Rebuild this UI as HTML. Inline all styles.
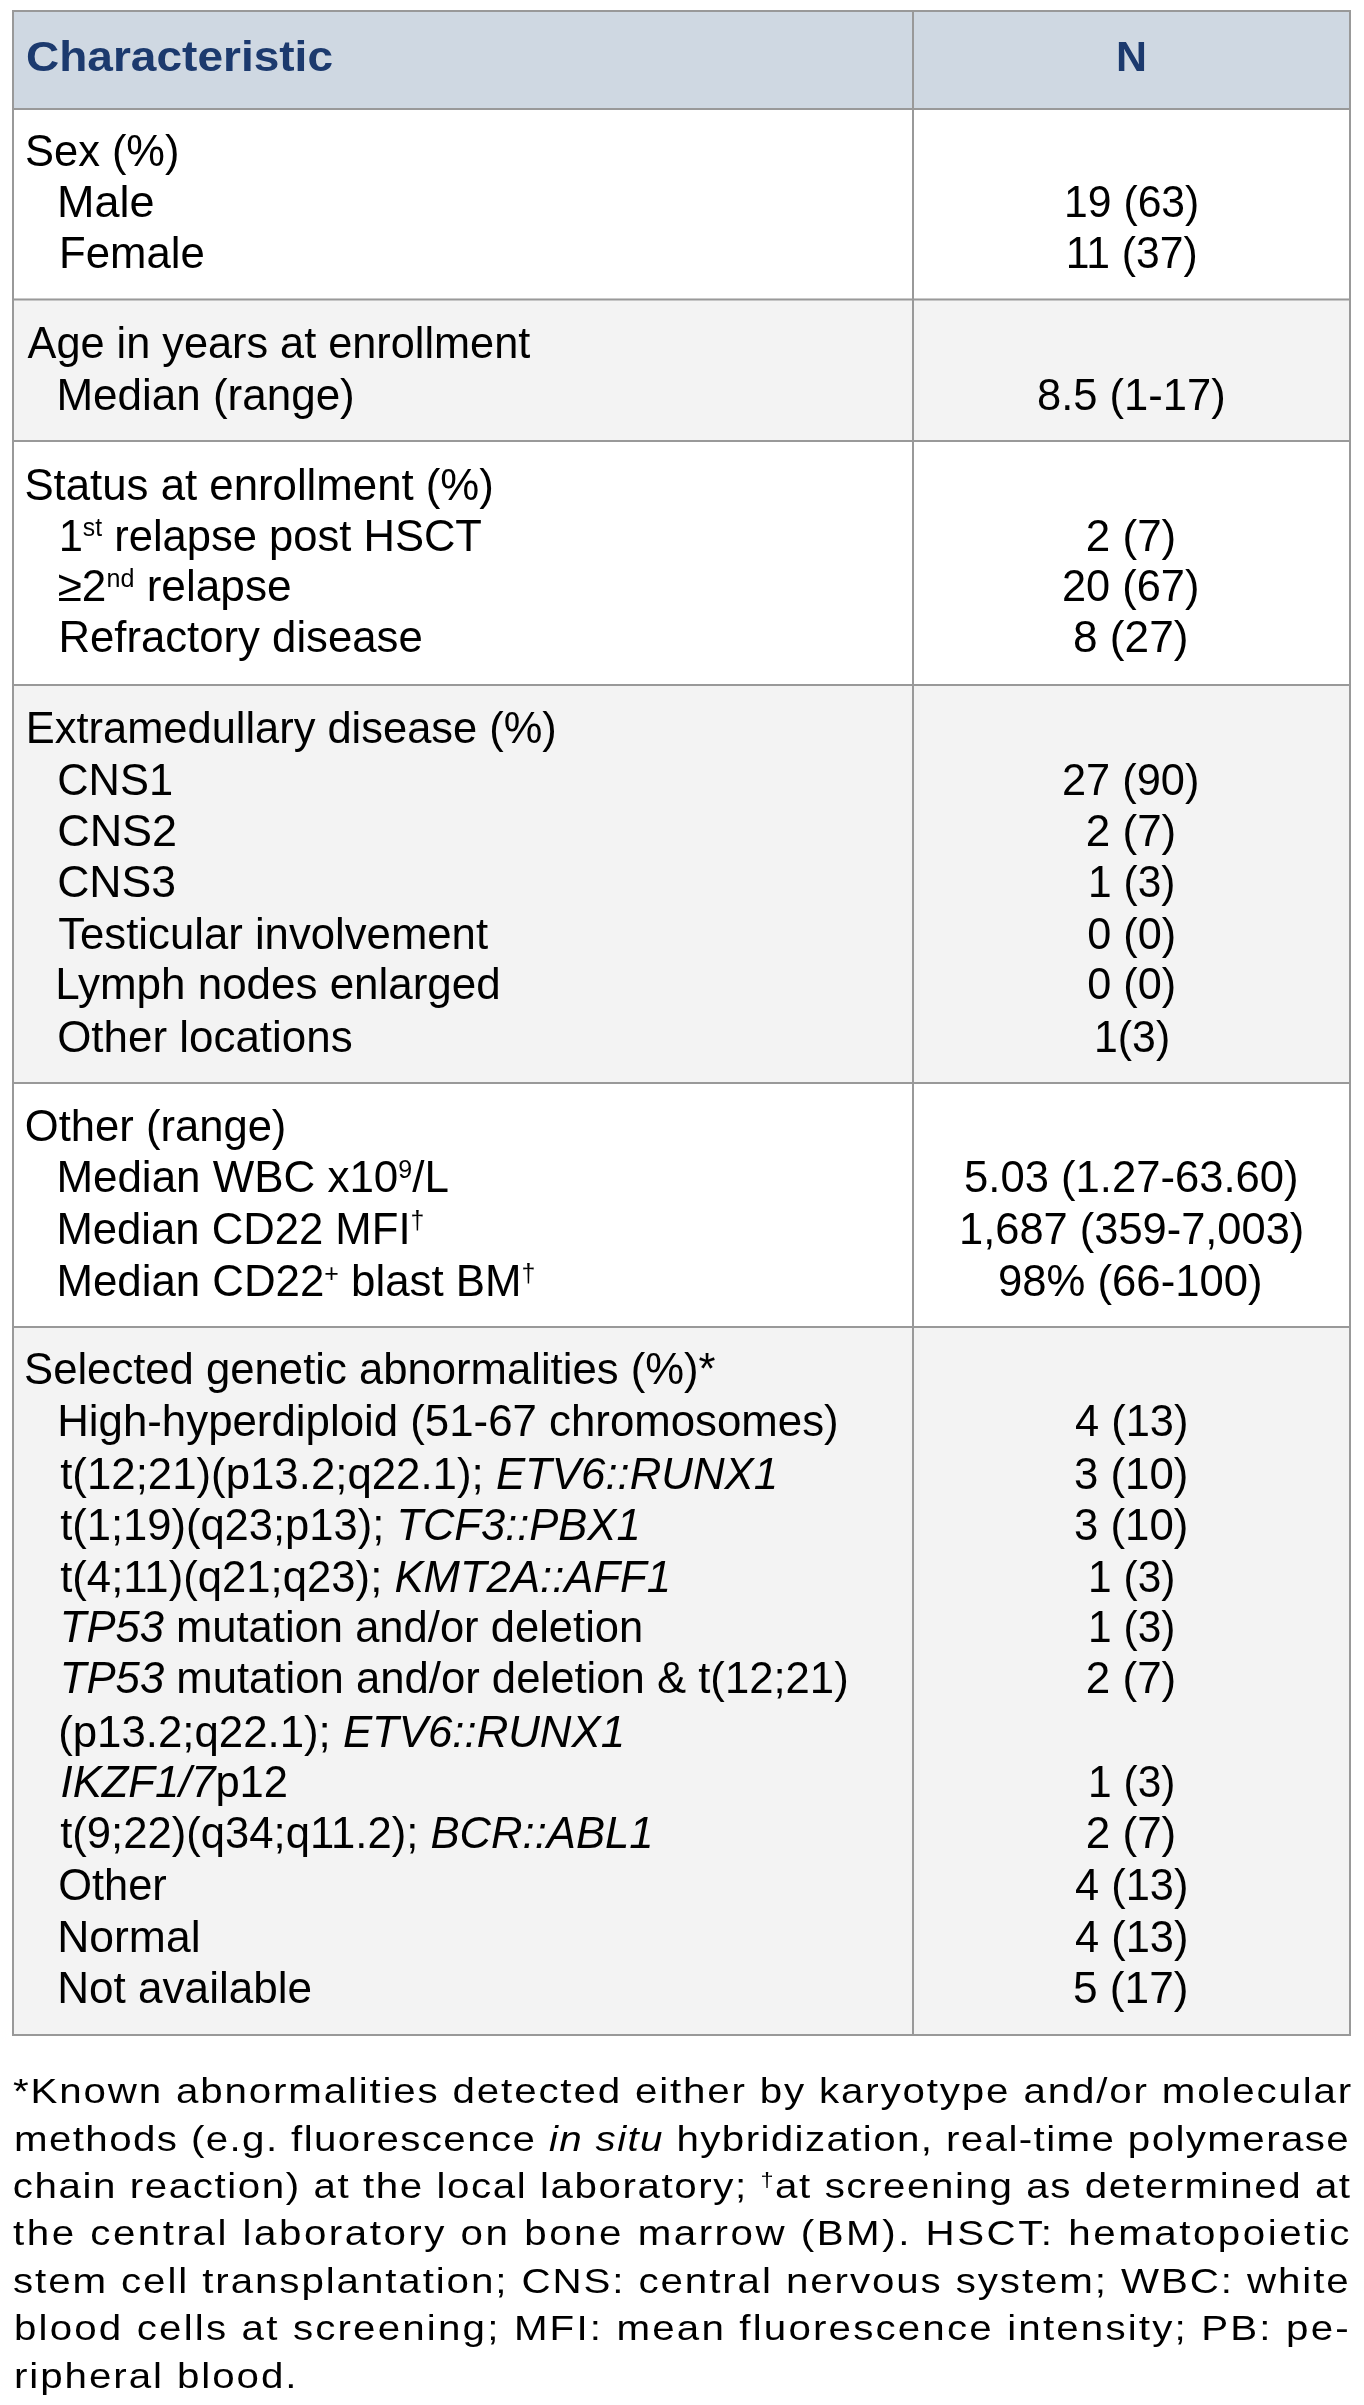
<!DOCTYPE html>
<html><head><meta charset="utf-8"><style>
html,body{margin:0;padding:0;background:#fff;}
body{width:1364px;height:2405px;overflow:hidden;}
svg{display:block;font-family:"Liberation Sans",sans-serif;will-change:transform;}
</style></head><body>
<svg width="1364" height="2405" viewBox="0 0 1364 2405" font-size="44">
<rect x="12" y="10" width="1339" height="100" fill="#cfd8e2"/>
<rect x="12" y="108" width="1339" height="192.5" fill="#ffffff"/>
<rect x="12" y="298.5" width="1339" height="143.5" fill="#f3f3f3"/>
<rect x="12" y="440" width="1339" height="246" fill="#ffffff"/>
<rect x="12" y="684" width="1339" height="400" fill="#f3f3f3"/>
<rect x="12" y="1082" width="1339" height="246" fill="#ffffff"/>
<rect x="12" y="1326" width="1339" height="710" fill="#f3f3f3"/>
<rect x="12" y="10" width="1339" height="2" fill="#999999"/>
<rect x="12" y="108" width="1339" height="2" fill="#999999"/>
<rect x="12" y="298.5" width="1339" height="2" fill="#999999"/>
<rect x="12" y="440" width="1339" height="2" fill="#999999"/>
<rect x="12" y="684" width="1339" height="2" fill="#999999"/>
<rect x="12" y="1082" width="1339" height="2" fill="#999999"/>
<rect x="12" y="1326" width="1339" height="2" fill="#999999"/>
<rect x="12" y="2034" width="1339" height="2" fill="#999999"/>
<rect x="12" y="10" width="2" height="2026" fill="#999999"/>
<rect x="912" y="10" width="2" height="2026" fill="#999999"/>
<rect x="1349" y="10" width="2" height="2026" fill="#999999"/>
<text id="t0" x="25.98" y="71" font-size="42" fill="#1c3a6e" font-weight="bold" textLength="307.04" lengthAdjust="spacingAndGlyphs"><tspan>Characteristic</tspan></text>
<text id="t1" x="1115.93" y="71" font-size="42" fill="#1c3a6e" font-weight="bold" textLength="30.97" lengthAdjust="spacingAndGlyphs"><tspan>N</tspan></text>
<text id="t2" x="25.03" y="165.5" textLength="154.43" lengthAdjust="spacingAndGlyphs"><tspan>Sex (%)</tspan></text>
<text id="t3" x="57.11" y="216.5" textLength="97.53" lengthAdjust="spacingAndGlyphs"><tspan>Male</tspan></text>
<text id="t4" x="59.03" y="267.5" textLength="145.68" lengthAdjust="spacingAndGlyphs"><tspan>Female</tspan></text>
<text id="t5" x="1064.09" y="216.5" textLength="135.26" lengthAdjust="spacingAndGlyphs"><tspan>19 (63)</tspan></text>
<text id="t6" x="1065.69" y="267.5" textLength="131.99" lengthAdjust="spacingAndGlyphs"><tspan>11 (37)</tspan></text>
<text id="t7" x="27.60" y="357.6" textLength="502.65" lengthAdjust="spacingAndGlyphs"><tspan>Age in years at enrollment</tspan></text>
<text id="t8" x="56.40" y="409.5" textLength="298.38" lengthAdjust="spacingAndGlyphs"><tspan>Median (range)</tspan></text>
<text id="t9" x="1037.01" y="409.5" textLength="188.72" lengthAdjust="spacingAndGlyphs"><tspan>8.5 (1-17)</tspan></text>
<text id="t10" x="24.41" y="499.7" textLength="469.44" lengthAdjust="spacingAndGlyphs"><tspan>Status at enrollment (%)</tspan></text>
<text id="t11" x="58.64" y="550.5" textLength="423.32" lengthAdjust="spacingAndGlyphs"><tspan>1</tspan><tspan font-size="25" dy="-14.5">st</tspan><tspan dy="14.5"> relapse post HSCT</tspan></text>
<text id="t12" x="57.59" y="601.2" textLength="234.00" lengthAdjust="spacingAndGlyphs"><tspan>≥2</tspan><tspan font-size="25" dy="-14.5">nd</tspan><tspan dy="14.5"> relapse</tspan></text>
<text id="t13" x="58.42" y="652.4" textLength="364.29" lengthAdjust="spacingAndGlyphs"><tspan>Refractory disease</tspan></text>
<text id="t14" x="1085.79" y="550.5" textLength="90.50" lengthAdjust="spacingAndGlyphs"><tspan>2 (7)</tspan></text>
<text id="t15" x="1062.03" y="601.2" textLength="137.36" lengthAdjust="spacingAndGlyphs"><tspan>20 (67)</tspan></text>
<text id="t16" x="1072.98" y="652.4" textLength="115.49" lengthAdjust="spacingAndGlyphs"><tspan>8 (27)</tspan></text>
<text id="t17" x="25.85" y="742.6" textLength="530.88" lengthAdjust="spacingAndGlyphs"><tspan>Extramedullary disease (%)</tspan></text>
<text id="t18" x="57.22" y="794.7" textLength="115.82" lengthAdjust="spacingAndGlyphs"><tspan>CNS1</tspan></text>
<text id="t19" x="57.16" y="846.0" textLength="119.98" lengthAdjust="spacingAndGlyphs"><tspan>CNS2</tspan></text>
<text id="t20" x="57.18" y="897.2" textLength="118.94" lengthAdjust="spacingAndGlyphs"><tspan>CNS3</tspan></text>
<text id="t21" x="58.21" y="948.5" textLength="429.85" lengthAdjust="spacingAndGlyphs"><tspan>Testicular involvement</tspan></text>
<text id="t22" x="55.20" y="999.1" textLength="445.51" lengthAdjust="spacingAndGlyphs"><tspan>Lymph nodes enlarged</tspan></text>
<text id="t23" x="57.20" y="1051.6" textLength="295.43" lengthAdjust="spacingAndGlyphs"><tspan>Other locations</tspan></text>
<text id="t24" x="1062.03" y="794.7" textLength="137.36" lengthAdjust="spacingAndGlyphs"><tspan>27 (90)</tspan></text>
<text id="t25" x="1085.79" y="846.0" textLength="90.50" lengthAdjust="spacingAndGlyphs"><tspan>2 (7)</tspan></text>
<text id="t26" x="1088.11" y="897.2" textLength="87.29" lengthAdjust="spacingAndGlyphs"><tspan>1 (3)</tspan></text>
<text id="t27" x="1087.22" y="948.5" textLength="88.91" lengthAdjust="spacingAndGlyphs"><tspan>0 (0)</tspan></text>
<text id="t28" x="1087.22" y="999.1" textLength="88.91" lengthAdjust="spacingAndGlyphs"><tspan>0 (0)</tspan></text>
<text id="t29" x="1094.08" y="1051.6" textLength="76.08" lengthAdjust="spacingAndGlyphs"><tspan>1(3)</tspan></text>
<text id="t30" x="24.81" y="1140.5" textLength="261.58" lengthAdjust="spacingAndGlyphs"><tspan>Other (range)</tspan></text>
<text id="t31" x="56.40" y="1192.3" textLength="392.46" lengthAdjust="spacingAndGlyphs"><tspan>Median WBC x10</tspan><tspan font-size="25" dy="-14.5">9</tspan><tspan dy="14.5">/L</tspan></text>
<text id="t32" x="56.43" y="1243.5" textLength="367.88" lengthAdjust="spacingAndGlyphs"><tspan>Median CD22 MFI</tspan><tspan font-size="25" dy="-14.5">†</tspan></text>
<text id="t33" x="56.41" y="1296.2" textLength="478.92" lengthAdjust="spacingAndGlyphs"><tspan>Median CD22</tspan><tspan font-size="25" dy="-14.5">+</tspan><tspan dy="14.5"> blast BM</tspan><tspan font-size="25" dy="-14.5">†</tspan></text>
<text id="t34" x="964.02" y="1192.3" textLength="334.52" lengthAdjust="spacingAndGlyphs"><tspan>5.03 (1.27-63.60)</tspan></text>
<text id="t35" x="959.05" y="1243.5" textLength="345.24" lengthAdjust="spacingAndGlyphs"><tspan>1,687 (359-7,003)</tspan></text>
<text id="t36" x="998.02" y="1296.2" textLength="264.58" lengthAdjust="spacingAndGlyphs"><tspan>98% (66-100)</tspan></text>
<text id="t37" x="24.02" y="1384.3" textLength="691.51" lengthAdjust="spacingAndGlyphs"><tspan>Selected genetic abnormalities (%)*</tspan></text>
<text id="t38" x="57.21" y="1435.9" textLength="781.50" lengthAdjust="spacingAndGlyphs"><tspan>High-hyperdiploid (51-67 chromosomes)</tspan></text>
<text id="t39" x="60.20" y="1489.0" textLength="717.96" lengthAdjust="spacingAndGlyphs"><tspan>t(12;21)(p13.2;q22.1); </tspan><tspan font-style="italic">ETV6::RUNX1</tspan></text>
<text id="t40" x="60.20" y="1540.2" textLength="580.39" lengthAdjust="spacingAndGlyphs"><tspan>t(1;19)(q23;p13); </tspan><tspan font-style="italic">TCF3::PBX1</tspan></text>
<text id="t41" x="60.20" y="1591.5" textLength="610.89" lengthAdjust="spacingAndGlyphs"><tspan>t(4;11)(q21;q23); </tspan><tspan font-style="italic">KMT2A::AFF1</tspan></text>
<text id="t42" x="59.84" y="1642.1" textLength="583.42" lengthAdjust="spacingAndGlyphs"><tspan font-style="italic">TP53</tspan><tspan> mutation and/or deletion</tspan></text>
<text id="t43" x="59.83" y="1693.4" textLength="788.88" lengthAdjust="spacingAndGlyphs"><tspan font-style="italic">TP53</tspan><tspan> mutation and/or deletion &amp; t(12;21)</tspan></text>
<text id="t44" x="58.21" y="1746.8" textLength="566.81" lengthAdjust="spacingAndGlyphs"><tspan>(p13.2;q22.1); </tspan><tspan font-style="italic">ETV6::RUNX1</tspan></text>
<text id="t45" x="60.61" y="1796.6" textLength="227.38" lengthAdjust="spacingAndGlyphs"><tspan font-style="italic">IKZF1/7</tspan><tspan>p12</tspan></text>
<text id="t46" x="60.20" y="1848.4" textLength="593.36" lengthAdjust="spacingAndGlyphs"><tspan>t(9;22)(q34;q11.2); </tspan><tspan font-style="italic">BCR::ABL1</tspan></text>
<text id="t47" x="58.23" y="1900.4" textLength="108.51" lengthAdjust="spacingAndGlyphs"><tspan>Other</tspan></text>
<text id="t48" x="57.16" y="1952.1" textLength="143.37" lengthAdjust="spacingAndGlyphs"><tspan>Normal</tspan></text>
<text id="t49" x="57.19" y="2003.4" textLength="254.89" lengthAdjust="spacingAndGlyphs"><tspan>Not available</tspan></text>
<text id="t50" x="1075.01" y="1435.9" textLength="113.41" lengthAdjust="spacingAndGlyphs"><tspan>4 (13)</tspan></text>
<text id="t51" x="1074.00" y="1489.0" textLength="114.44" lengthAdjust="spacingAndGlyphs"><tspan>3 (10)</tspan></text>
<text id="t52" x="1074.00" y="1540.2" textLength="114.44" lengthAdjust="spacingAndGlyphs"><tspan>3 (10)</tspan></text>
<text id="t53" x="1088.11" y="1591.5" textLength="87.29" lengthAdjust="spacingAndGlyphs"><tspan>1 (3)</tspan></text>
<text id="t54" x="1088.11" y="1642.1" textLength="87.29" lengthAdjust="spacingAndGlyphs"><tspan>1 (3)</tspan></text>
<text id="t55" x="1085.79" y="1693.4" textLength="90.50" lengthAdjust="spacingAndGlyphs"><tspan>2 (7)</tspan></text>
<text id="t56" x="1088.11" y="1796.6" textLength="87.29" lengthAdjust="spacingAndGlyphs"><tspan>1 (3)</tspan></text>
<text id="t57" x="1085.79" y="1848.4" textLength="90.50" lengthAdjust="spacingAndGlyphs"><tspan>2 (7)</tspan></text>
<text id="t58" x="1075.01" y="1900.4" textLength="113.41" lengthAdjust="spacingAndGlyphs"><tspan>4 (13)</tspan></text>
<text id="t59" x="1075.01" y="1952.1" textLength="113.41" lengthAdjust="spacingAndGlyphs"><tspan>4 (13)</tspan></text>
<text id="t60" x="1072.98" y="2003.4" textLength="115.49" lengthAdjust="spacingAndGlyphs"><tspan>5 (17)</tspan></text>
<text id="t61" x="11.61" y="2102.6" transform="scale(1.12 1)" font-size="36" textLength="1194.79" lengthAdjust="spacing"><tspan>*Known abnormalities detected either by karyotype and/or molecular</tspan></text>
<text id="t62" x="12.50" y="2151.0" transform="scale(1.12 1)" font-size="36" textLength="1191.74" lengthAdjust="spacing"><tspan>methods (e.g. fluorescence </tspan><tspan font-style="italic">in situ</tspan><tspan> hybridization, real-time polymerase</tspan></text>
<text id="t63" x="11.43" y="2198.2" transform="scale(1.12 1)" font-size="36" textLength="1194.01" lengthAdjust="spacing"><tspan>chain reaction) at the local laboratory; </tspan><tspan font-size="21" dy="-11">†</tspan><tspan dy="11">at screening as determined at</tspan></text>
<text id="t64" x="11.61" y="2245.0" transform="scale(1.12 1)" font-size="36" textLength="1193.24" lengthAdjust="spacing"><tspan>the central laboratory on bone marrow (BM). HSCT: hematopoietic</tspan></text>
<text id="t65" x="11.61" y="2293.3" transform="scale(1.12 1)" font-size="36" textLength="1192.60" lengthAdjust="spacing"><tspan>stem cell transplantation; CNS: central nervous system; WBC: white</tspan></text>
<text id="t66" x="12.50" y="2340.3" transform="scale(1.12 1)" font-size="36" textLength="1191.68" lengthAdjust="spacing"><tspan>blood cells at screening; MFI: mean fluorescence intensity; PB: pe-</tspan></text>
<text id="t67" x="12.50" y="2387.6" transform="scale(1.12 1)" font-size="36" textLength="252.25" lengthAdjust="spacing"><tspan>ripheral blood.</tspan></text>
</svg>
</body></html>
